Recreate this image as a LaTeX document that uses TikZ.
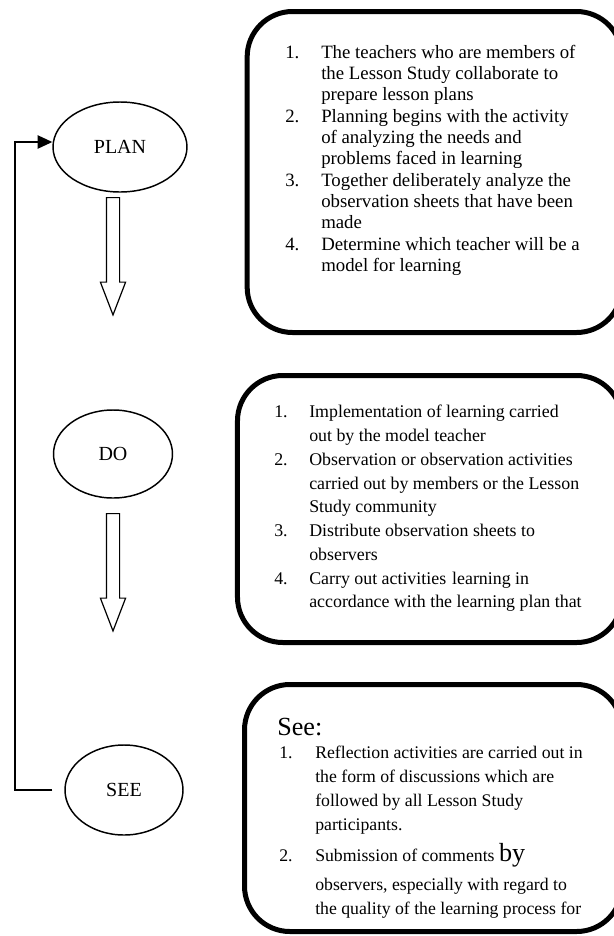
\documentclass[tikz,border=0pt]{standalone}
\usepackage{fontspec}
\setmainfont{Liberation Serif}
\usetikzlibrary{arrows.meta,shapes.geometric,shapes.arrows}
\tikzset{
  phase/.style={draw, ellipse, line width=1.1pt, inner sep=0pt,
                font=\fontsize{15}{18}\selectfont},
  notebox/.style={draw, line width=3.75pt, rounded corners=34pt, inner sep=0pt},
  blockarrow/.style={draw, single arrow, shape border rotate=270, line width=0.9pt,
                     inner xsep=4.5pt, inner ysep=0pt, single arrow head extend=4.5pt,
                     single arrow tip angle=42, minimum height=88pt},
  listtext/.style={anchor=north west, inner sep=0pt, align=left},
  looparr/.style={-{Triangle[length=11pt,width=10pt]}, line width=1.1pt}}

\begin{document}
\begin{tikzpicture}[x=0.75pt,y=-0.75pt]
    \useasboundingbox (0,0) rectangle (614,936);
    \fill[white] (0,0) rectangle (614,936);
    \clip (0,0) rectangle (614,936);
    \node[phase, minimum width=100.5pt, minimum height=67.5pt] (plan) at (120,147) {PLAN};
    \node[phase, minimum width=89.25pt, minimum height=66pt] (do) at (113,454) {DO};
    \node[phase, minimum width=88.5pt, minimum height=67.5pt] (see) at (124,790) {SEE};
    \node[blockarrow, anchor=tail] (plandown) at (113,197) {};
    \node[blockarrow, anchor=tail] (dodown) at (113,513) {};
    \coordinate (loopx) at (15,142);
    \draw[looparr] ([xshift=-9pt]see.west) -| (loopx) -- (loopx -| plan.west);
    \node[notebox, minimum width=281pt, minimum height=240.75pt] (planbox) at (434.5,172) {};
    \node[notebox, minimum width=288.4pt, minimum height=200.25pt] (dobox) at (429.75,509) {};
    \node[notebox, minimum width=283.1pt, minimum height=185.25pt] (seebox) at (433.25,808) {};
    \node[listtext, font=\fontsize{14.1}{16}\selectfont] (plantext) at (285,43)
      {\begin{tabular}{@{}p{27pt}@{}l@{}}
       1. & The teachers who are members of\\
          & the Lesson Study collaborate to\\
          & prepare lesson plans\\
       2. & Planning begins with the activity\\
          & of analyzing the needs and\\
          & problems faced in learning\\
       3. & Together deliberately analyze the\\
          & observation sheets that have been\\
          & made\\
       4. & Determine which teacher will be a\\
          & model for learning
       \end{tabular}};
    \node[listtext, font=\fontsize{13.4}{17.8}\selectfont] (dotext) at (274,401)
      {\begin{tabular}{@{}p{26.25pt}@{}l@{}}
       1. & Implementation of learning carried\\
          & out by the model teacher\\
       2. & Observation or observation activities\\
          & carried out by members or the Lesson\\
          & Study community\\
       3. & Distribute observation sheets to\\
          & observers\\
       4. & Carry out activities\,\,learning in\\
          & accordance with the learning plan that
       \end{tabular}};
    \node[anchor=base west, inner sep=0pt, font=\fontsize{19.6}{22}\selectfont] (seehead) at (277,735) {See:};
    \node[listtext, font=\fontsize{13.3}{18}\selectfont] (seetext) at (279,741)
      {\begin{tabular}{@{}p{27pt}@{}l@{}}
       1. & Reflection activities are carried out in\\
          & the form of discussions which are\\
          & followed by all Lesson Study\\
          & participants.\\[4.5pt]
       2. & Submission of comments {\fontsize{19.6}{22}\selectfont by}\\[4pt]
          & observers, especially with regard to\\
          & the quality of the learning process for
       \end{tabular}};
  \end{tikzpicture}
\end{document}
